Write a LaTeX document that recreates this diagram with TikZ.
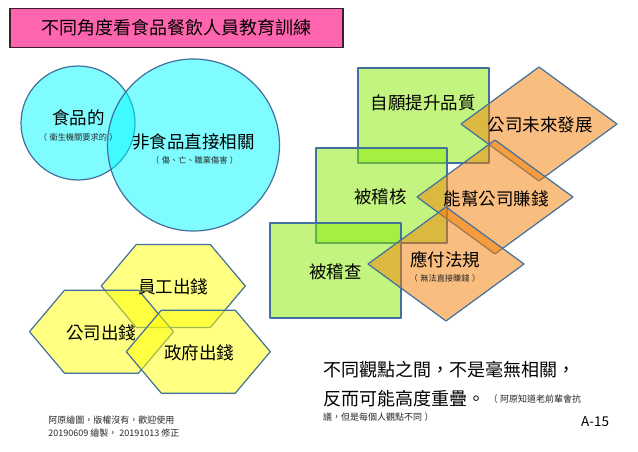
\documentclass[tikz,border=0pt]{standalone}
\usepackage{fontspec}
\setmainfont{Noto Sans CJK TC}
\definecolor{outl}{RGB}{65,113,156}
\definecolor{titlefill}{RGB}{255,100,175}
\definecolor{titleline}{RGB}{60,30,45}
\definecolor{cyanC}{RGB}{0,250,255}
\definecolor{greenC}{RGB}{135,235,0}
\definecolor{orangeC}{RGB}{245,125,0}
\definecolor{yellowC}{RGB}{255,255,5}
\definecolor{smalltxt}{RGB}{40,40,40}
\newcommand\lp{（\hspace{2.5pt}}
\newcommand\rp{\hspace{2.5pt}）}
\tikzset{
  shp/.style={draw=outl, line width=1.2pt, fill opacity=0.5, line join=round},
  circ/.style={shp, fill=cyanC},
  sq/.style={shp, fill=greenC},
  dia/.style={shp, fill=orangeC},
  hexs/.style={shp, fill=yellowC},
  big/.style={font=\fontsize{17.5}{20}\selectfont, inner sep=0pt},
  sub/.style={font=\fontsize{8.2}{10}\selectfont, inner sep=0pt, text=smalltxt},
  foot/.style={font=\fontsize{9}{11}\selectfont, inner sep=0pt, anchor=west, text=smalltxt},
  hexa/.pic={\path[hexs] (-72,0) -- (-37,-41.5) -- (37,-41.5) -- (72,0) -- (37,41.5) -- (-37,41.5) -- cycle;},
  diam/.pic={\path[dia] (-78,0) -- (0,-57) -- (78,0) -- (0,57) -- cycle;}
}
\begin{document}
\begin{tikzpicture}[x=1pt,y=-1pt]
\useasboundingbox[fill=white] (0,0) rectangle (638,452);
% title
\node[draw=titleline, line width=1.5pt, fill=titlefill, minimum width=333pt, minimum height=39pt, inner sep=0pt,
  font=\fontsize{18}{20}\selectfont] (title) at (176.5,28) {\raisebox{-1pt}{不同角度看食品餐飲人員教育訓練}};
% circles
\path[circ] (78,123) circle[radius=57];
\path[circ] (193.5,145) circle[radius=86];
% green squares
\path[sq] (358,68) rectangle (489,163);
\path[sq] (316,148) rectangle (447,243);
\path[sq] (270,223) rectangle (401,318);
% diamonds
\pic at (539,124) {diam};
\pic at (495,197) {diam};
\pic at (446,264) {diam};
% hexagons
\pic at (173.3,286) {hexa};
\pic at (101.5,331.7) {hexa};
\pic at (198.3,351.7) {hexa};
% texts
\node[big] (food) at (78.3,118) {食品的};
\node[sub] (foodsub) at (78.3,137.7) {\lp 衛生機關要求的\rp};
\node[big] (nonfood) at (193.5,141.7) {非食品直接相關};
\node[sub] (nonfoodsub) at (194.7,160) {\lp 傷、亡、職業傷害\rp};
\node[big] (vol) at (423.3,103.3) {自願提升品質};
\node[big] (audit) at (380.5,196.7) {被稽核};
\node[big] (inspect) at (335.5,271.7) {被稽查};
\node[big] (future) at (540,125) {公司未來發展};
\node[big] (earn) at (496,199.3) {能幫公司賺錢};
\node[big] (law) at (445.3,259.3) {應付法規};
\node[sub] (lawsub) at (445,278.3) {\lp 無法直接賺錢\rp};
\node[big] (emp) at (173.3,286.7) {員工出錢};
\node[big] (comp) at (101.5,333.3) {公司出錢};
\node[big] (gov) at (199,353.3) {政府出錢};
\node[foot] (foot1) at (48.3,420) {阿原繪圖，版權沒有，歡迎使用};
\node[foot] (foot2) at (48.3,432.7) {20190609 繪製， 20191013 修正};
\node[font=\fontsize{18}{20}\selectfont, inner sep=0pt, anchor=west] (line1) at (323,370) {不同觀點之間，不是毫無相關，};
\node[font=\fontsize{18}{20}\selectfont, inner sep=0pt, anchor=west] (line2) at (323,399) {反而可能高度重疊。};
\node[foot] (line2b) at ([xshift=3pt]line2.east) {\lp 阿原知道老前輩會抗};
\node[foot] (line3) at (323,416.7) {議，但是每個人觀點不同\rp};
\node[font=\fontsize{13.5}{15}\selectfont, inner sep=0pt, anchor=east] (page) at (609.3,421.7) {A-15};
\end{tikzpicture}
\end{document}
